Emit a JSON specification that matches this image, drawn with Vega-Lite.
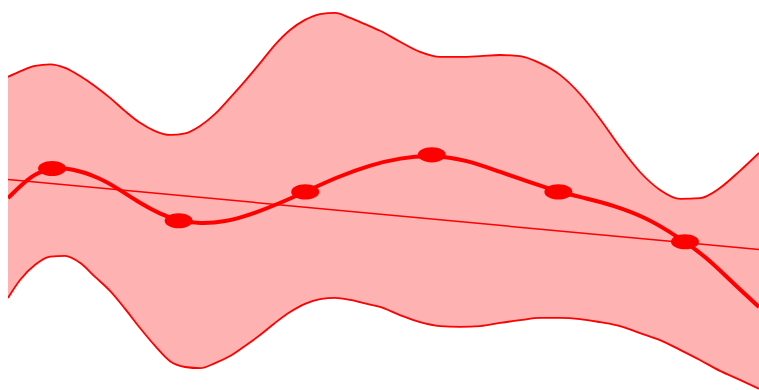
{
  "$schema": "https://vega.github.io/schema/vega-lite/v6.json",
  "width": 759,
  "height": 390,
  "autosize": {"type": "fit", "contains": "padding"},
  "padding": {"left": 8, "right": 0, "top": 0, "bottom": 0},
  "config": {"view": {"stroke": null}},
  "datasets": {
    "band": [
      {"x": 0.652, "upper": 80.3, "lower": 23.6},
      {"x": 0.747, "upper": 81.7, "lower": 28.2},
      {"x": 0.866, "upper": 83.1, "lower": 32.1},
      {"x": 0.984, "upper": 83.5, "lower": 34.2},
      {"x": 1.103, "upper": 82.6, "lower": 34.4},
      {"x": 1.221, "upper": 80.5, "lower": 32.6},
      {"x": 1.340, "upper": 77.9, "lower": 29.0},
      {"x": 1.458, "upper": 74.9, "lower": 25.4},
      {"x": 1.577, "upper": 71.5, "lower": 20.8},
      {"x": 1.695, "upper": 68.5, "lower": 15.9},
      {"x": 1.814, "upper": 66.4, "lower": 11.3},
      {"x": 1.932, "upper": 65.4, "lower": 7.4},
      {"x": 2.051, "upper": 65.8, "lower": 5.9},
      {"x": 2.169, "upper": 67.7, "lower": 5.6},
      {"x": 2.288, "upper": 70.8, "lower": 6.9},
      {"x": 2.406, "upper": 74.9, "lower": 8.7},
      {"x": 2.524, "upper": 79.2, "lower": 11.3},
      {"x": 2.643, "upper": 83.8, "lower": 14.1},
      {"x": 2.761, "upper": 88.5, "lower": 17.2},
      {"x": 2.880, "upper": 92.3, "lower": 20.0},
      {"x": 2.998, "upper": 94.9, "lower": 22.1},
      {"x": 3.117, "upper": 96.4, "lower": 23.3},
      {"x": 3.235, "upper": 96.7, "lower": 23.6},
      {"x": 3.354, "upper": 95.4, "lower": 23.1},
      {"x": 3.472, "upper": 93.8, "lower": 22.2},
      {"x": 3.591, "upper": 92.1, "lower": 21.3},
      {"x": 3.749, "upper": 89.3, "lower": 19.2},
      {"x": 3.907, "upper": 86.7, "lower": 17.4},
      {"x": 4.065, "upper": 85.4, "lower": 16.4},
      {"x": 4.223, "upper": 85.4, "lower": 16.2},
      {"x": 4.381, "upper": 85.6, "lower": 16.4},
      {"x": 4.539, "upper": 85.9, "lower": 17.2},
      {"x": 4.697, "upper": 85.6, "lower": 17.9},
      {"x": 4.855, "upper": 83.8, "lower": 18.5},
      {"x": 5.013, "upper": 80.8, "lower": 18.5},
      {"x": 5.171, "upper": 75.9, "lower": 18.2},
      {"x": 5.329, "upper": 69.5, "lower": 17.4},
      {"x": 5.487, "upper": 62.3, "lower": 16.4},
      {"x": 5.645, "upper": 55.9, "lower": 14.6},
      {"x": 5.803, "upper": 51.3, "lower": 12.8},
      {"x": 5.961, "upper": 49.0, "lower": 10.3},
      {"x": 6.118, "upper": 49.2, "lower": 7.7},
      {"x": 6.276, "upper": 51.8, "lower": 4.9},
      {"x": 6.434, "upper": 56.2, "lower": 2.6},
      {"x": 6.585, "upper": 60.8, "lower": 0.3}
    ],
    "mean": [
      {"x": 0.652, "y": 49.2},
      {"x": 0.850, "y": 55.6},
      {"x": 1.0, "y": 56.8},
      {"x": 1.15, "y": 56.9},
      {"x": 1.379, "y": 54.4},
      {"x": 1.537, "y": 51.3},
      {"x": 1.695, "y": 47.9},
      {"x": 1.853, "y": 45.1},
      {"x": 2.0, "y": 43.4},
      {"x": 2.169, "y": 42.6},
      {"x": 2.367, "y": 43.1},
      {"x": 2.564, "y": 44.9},
      {"x": 2.801, "y": 47.9},
      {"x": 3.0, "y": 50.8},
      {"x": 3.251, "y": 54.6},
      {"x": 3.512, "y": 57.7},
      {"x": 3.749, "y": 59.5},
      {"x": 4.0, "y": 60.3},
      {"x": 4.278, "y": 59.0},
      {"x": 4.539, "y": 55.9},
      {"x": 4.776, "y": 53.3},
      {"x": 5.0, "y": 50.8},
      {"x": 5.210, "y": 49.2},
      {"x": 5.431, "y": 47.4},
      {"x": 5.700, "y": 44.1},
      {"x": 5.882, "y": 40.5},
      {"x": 6.0, "y": 38.0},
      {"x": 6.197, "y": 33.3},
      {"x": 6.379, "y": 27.4},
      {"x": 6.585, "y": 21.3}
    ],
    "obs": [
      {"x": 1, "y": 56.8},
      {"x": 2, "y": 43.4},
      {"x": 3, "y": 50.8},
      {"x": 4, "y": 60.3},
      {"x": 5, "y": 50.8},
      {"x": 6, "y": 38.0}
    ],
    "trend": [
      {"x": 0.652, "y": 54.0},
      {"x": 6.585, "y": 36.0}
    ]
  },
  "layer": [
    {
      "data": {"name": "band"},
      "mark": {"type": "area", "color": "#ff0000", "opacity": 0.3, "interpolate": "monotone", "clip": true},
      "encoding": {
        "x": {"field": "x", "type": "quantitative", "scale": {"domain": [0.652, 6.585], "nice": false, "zero": false}, "axis": null},
        "y": {"field": "upper", "type": "quantitative", "scale": {"domain": [0, 100], "nice": false, "zero": false}, "axis": null},
        "y2": {"field": "lower"}
      }
    },
    {
      "data": {"name": "band"},
      "mark": {"type": "line", "color": "#ff0000", "strokeWidth": 1.8, "interpolate": "monotone", "clip": true},
      "encoding": {
        "x": {"field": "x", "type": "quantitative"},
        "y": {"field": "upper", "type": "quantitative"}
      }
    },
    {
      "data": {"name": "band"},
      "mark": {"type": "line", "color": "#ff0000", "strokeWidth": 1.8, "interpolate": "monotone", "clip": true},
      "encoding": {
        "x": {"field": "x", "type": "quantitative"},
        "y": {"field": "lower", "type": "quantitative"}
      }
    },
    {
      "data": {"name": "trend"},
      "mark": {"type": "line", "color": "#ff0000", "strokeWidth": 1.5, "clip": true},
      "encoding": {
        "x": {"field": "x", "type": "quantitative"},
        "y": {"field": "y", "type": "quantitative"}
      }
    },
    {
      "data": {"name": "mean"},
      "mark": {"type": "line", "color": "#ff0000", "strokeWidth": 4, "interpolate": "basis", "clip": true},
      "encoding": {
        "x": {"field": "x", "type": "quantitative"},
        "y": {"field": "y", "type": "quantitative"}
      }
    },
    {
      "data": {"name": "obs"},
      "mark": {"type": "point", "filled": true, "color": "#ff0000", "opacity": 1, "size": 784, "shape": "M-1,0A1,0.54 0 1,0 1,0A1,0.54 0 1,0 -1,0Z"},
      "encoding": {
        "x": {"field": "x", "type": "quantitative"},
        "y": {"field": "y", "type": "quantitative"}
      }
    }
  ]
}
